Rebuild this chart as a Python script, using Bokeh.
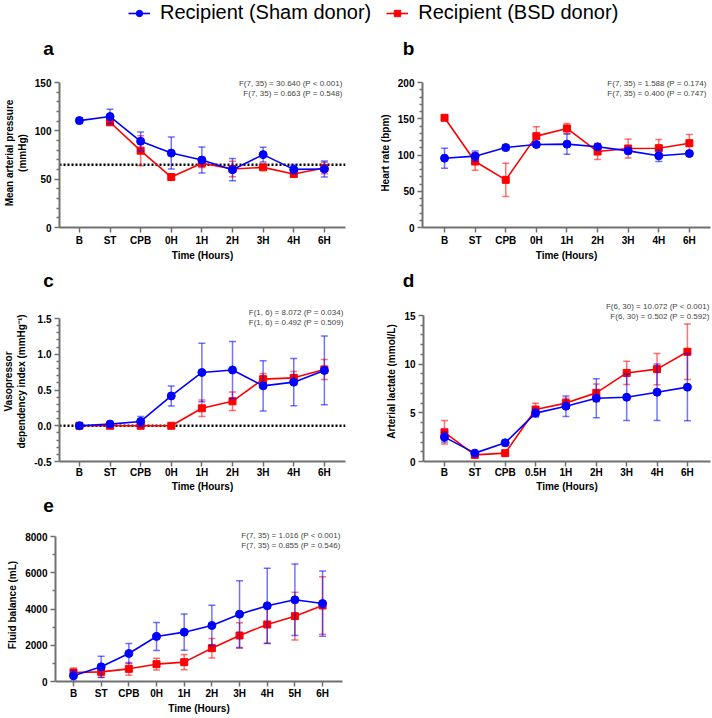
import numpy as np
from bokeh.plotting import figure
from bokeh.models import Span, Label, Legend, LegendItem, FixedTicker, Range1d
from bokeh.layouts import column, row
from bokeh.embed import file_html
from bokeh.resources import INLINE

nan = float("nan")
FONT = "Liberation Sans"
BLUE = "#0000FF"
RED = "#FF0000"
AXIS = "#707070"

# ---------------- data ----------------
series_names = ["Recipient (Sham donor)", "Recipient (BSD donor)"]

a_cats = ["B", "ST", "CPB", "0H", "1H", "2H", "3H", "4H", "6H"]
a_sham = [110.6, 114.8, 89.2, 77.0, 69.8, 59.8, 75.4, 60.1, 60.5]
a_sham_err = [3.0, 7.6, 9.7, 16.5, 13.5, 11.5, 7.7, 4.5, 8.3]
a_bsd = [nan, 108.9, 79.5, 52.2, 66.5, 60.5, 62.2, 55.3, 61.5]
a_bsd_err = [nan, 3.5, 15.5, 2.0, 4.5, 8.0, 2.0, 3.0, 6.0]
a_stats = ["F(7, 35) = 30.640 (P < 0.001)", "F(7, 35) = 0.663 (P = 0.548)"]
a_yticks = [0, 50, 100, 150]
a_threshold = 65

b_cats = ["B", "ST", "CPB", "0H", "1H", "2H", "3H", "4H", "6H"]
b_sham = [95.6, 98.4, 110.3, 114.5, 115.0, 111.3, 105.7, 98.9, 102.0]
b_sham_err = [13.8, 7.0, 4.0, 3.0, 14.0, 3.0, 4.0, 8.0, 3.0]
b_bsd = [151.3, 91.0, 65.7, 126.0, 136.6, 104.8, 109.0, 109.4, 116.3]
b_bsd_err = [2.0, 12.0, 23.0, 13.0, 7.0, 11.0, 13.0, 12.0, 12.0]
b_stats = ["F(7, 35) = 1.588 (P = 0.174)", "F(7, 35) = 0.400 (P = 0.747)"]
b_yticks = [0, 50, 100, 150, 200]

c_cats = ["B", "ST", "CPB", "0H", "1H", "2H", "3H", "4H", "6H"]
c_sham = [0.0, 0.023, 0.06, 0.417, 0.745, 0.78, 0.558, 0.61, 0.774]
c_sham_err = [0.005, 0.01, 0.07, 0.14, 0.41, 0.40, 0.35, 0.33, 0.48]
c_bsd = [0.0, 0.0, 0.0, 0.0, 0.244, 0.342, 0.652, 0.67, 0.788]
c_bsd_err = [0.0, 0.005, 0.005, 0.005, 0.115, 0.13, 0.08, 0.09, 0.14]
c_stats = ["F(1, 6) = 8.072 (P = 0.034)", "F(1, 6) = 0.492 (P = 0.509)"]
c_yticks = [-0.5, 0.0, 0.5, 1.0, 1.5]
c_threshold = 0.0

d_cats = ["B", "ST", "CPB", "0.5H", "1H", "2H", "3H", "4H", "6H"]
d_sham = [2.5, 0.86, 1.92, 4.97, 5.68, 6.5, 6.6, 7.12, 7.64]
d_sham_err = [0.5, 0.1, 0.3, 0.4, 1.05, 2.0, 2.4, 2.9, 3.45]
d_bsd = [3.0, 0.68, 0.86, 5.34, 6.0, 7.05, 9.1, 9.49, 11.27]
d_bsd_err = [1.2, 0.15, 0.1, 0.65, 0.5, 0.9, 1.2, 1.6, 2.85]
d_stats = ["F(6, 30) = 10.072 (P < 0.001)", "F(6, 30) = 0.502 (P = 0.592)"]
d_yticks = [0, 5, 10, 15]

e_cats = ["B", "ST", "CPB", "0H", "1H", "2H", "3H", "4H", "5H", "6H"]
e_sham = [313, 809, 1545, 2483, 2722, 3090, 3715, 4175, 4506, 4303]
e_sham_err = [300, 590, 550, 770, 1000, 1120, 1840, 2080, 1970, 1800]
e_bsd = [497, 533, 699, 956, 1067, 1839, 2538, 3145, 3605, 4193]
e_bsd_err = [250, 300, 350, 320, 420, 540, 700, 1030, 1320, 1590]
e_stats = ["F(7, 35) = 1.016 (P < 0.001)", "F(7, 35) = 0.855 (P = 0.546)"]
e_yticks = [0, 2000, 4000, 6000, 8000]


def minor_between(ticks, n):
    out = []
    for lo, hi in zip(ticks[:-1], ticks[1:]):
        step = (hi - lo) / n
        out += [lo + step * k for k in range(1, n)]
    return out


def draw_series(p, x, y, err, color, marker, size):
    x = np.asarray(x, dtype=float)
    y = np.asarray(y, dtype=float)
    err = np.asarray(err, dtype=float)
    ok = ~np.isnan(y) & ~np.isnan(err)
    xs, ys, es = x[ok], y[ok], err[ok]
    p.segment(x0=xs, y0=ys - es, x1=xs, y1=ys + es, line_color=color,
              line_alpha=0.55, line_width=1.5)
    p.scatter(x=xs, y=ys + es, marker="dash", size=7, line_color=color,
              line_alpha=0.55, line_width=1.5)
    p.scatter(x=xs, y=ys - es, marker="dash", size=7, line_color=color,
              line_alpha=0.55, line_width=1.5)
    p.line(x=x, y=y, line_color=color, line_width=1.6)
    p.scatter(x=x[~np.isnan(y)], y=y[~np.isnan(y)], marker=marker, size=size,
              fill_color=color, line_color=color)


def make_panel(cats, sham, sham_err, bsd, bsd_err, stats, ylabel, yticks, nminor,
               xrange, frame_w, axis_px, ext_px, border, ylab_standoff, stats_xy,
               xtick_standoff=2, xlab_standoff=2, threshold=None):
    l, r, t, b = border
    y0, y1 = yticks[0], yticks[-1]
    ytop = y1 + ext_px * (y1 - y0) / axis_px
    p = figure(frame_width=frame_w, frame_height=axis_px + ext_px, title=None,
               output_backend="svg", toolbar_location=None,
               x_range=Range1d(*xrange), y_range=Range1d(y0, ytop),
               min_border_left=l, min_border_right=r, min_border_top=t,
               min_border_bottom=b)
    p.outline_line_color = None
    p.grid.visible = False
    p.background_fill_color = "white"

    if threshold is not None:
        p.add_layout(Span(location=threshold, dimension="width", line_color="black",
                          line_width=2.5, line_dash="2 2", level="underlay"))

    x = list(range(len(cats)))
    draw_series(p, x, bsd, bsd_err, RED, "square", 7)
    draw_series(p, x, sham, sham_err, BLUE, "circle", 8)

    xa = p.xaxis[0]
    ya = p.yaxis[0]
    xa.ticker = FixedTicker(ticks=x)
    xa.major_label_overrides = {i: c for i, c in enumerate(cats)}
    ya.ticker = FixedTicker(ticks=yticks, minor_ticks=minor_between(yticks, nminor))
    ya.bounds = (y0, y1)
    for ax in (xa, ya):
        ax.axis_line_color = AXIS
        ax.axis_line_width = 2
        ax.major_tick_line_color = AXIS
        ax.major_tick_line_width = 1.5
        ax.minor_tick_line_color = AXIS
        ax.minor_tick_line_width = 1.5
        ax.major_tick_in = 0
        ax.major_tick_out = 5
        ax.minor_tick_in = 0
        ax.minor_tick_out = 3
        ax.major_label_text_font = FONT
        ax.major_label_text_font_size = "10px"
        ax.major_label_text_font_style = "bold"
        ax.major_label_text_color = "black"
        ax.axis_label_text_font = FONT
        ax.axis_label_text_font_size = "10px"
        ax.axis_label_text_font_style = "bold"
        ax.axis_label_text_color = "black"
    xa.minor_tick_line_color = None
    xa.major_label_standoff = xtick_standoff
    xa.axis_label = "Time (Hours)"
    xa.axis_label_standoff = xlab_standoff
    ya.major_label_standoff = 3
    ya.axis_label = ylabel
    ya.axis_label_standoff = ylab_standoff
    ya.axis_label_text_line_height = 1.2
    if isinstance(yticks[0], float) or isinstance(yticks[1], float):
        ya.major_label_overrides = {v: f"{v:.1f}" for v in yticks}

    for i, s in enumerate(stats):
        p.add_layout(Label(x=stats_xy[0], y=stats_xy[1] - 10.3 * i, x_units="screen",
                           y_units="screen", text=s, text_font=FONT,
                           text_font_size="8px", text_align="right",
                           text_baseline="middle", text_color="#444444"))
    return p


def header(height, letters):
    h = figure(width=712, height=height, title=None, output_backend="svg",
               toolbar_location=None, x_axis_location=None, y_axis_location=None,
               x_range=Range1d(0, 1), y_range=Range1d(0, 1),
               min_border_left=0, min_border_right=0, min_border_top=0,
               min_border_bottom=0)
    h.outline_line_color = None
    h.grid.visible = False
    for txt, sx, sy in letters:
        h.add_layout(Label(x=sx, y=sy, x_units="screen", y_units="screen", text=txt,
                           text_font=FONT, text_font_size="19px",
                           text_font_style="bold", text_align="center",
                           text_baseline="alphabetic", text_color="black"))
    return h


# header 1 with legend and letters a, b
h1 = header(64, [("a", 48, 16.5), ("b", 408, 16.5)])
lb = h1.line(x=[nan, nan], y=[nan, nan], line_color=BLUE, line_width=1.6)
mb = h1.scatter(x=[nan], y=[nan], marker="circle", size=8, fill_color=BLUE, line_color=BLUE)
lr = h1.line(x=[nan, nan], y=[nan, nan], line_color=RED, line_width=1.6)
mr = h1.scatter(x=[nan], y=[nan], marker="square", size=7, fill_color=RED, line_color=RED)
legend = Legend(items=[LegendItem(label=series_names[0], renderers=[lb, mb]),
                       LegendItem(label=series_names[1], renderers=[lr, mr])],
                orientation="horizontal", location=(128, 40),
                label_text_font=FONT, label_text_font_size="20px",
                label_text_color="black", glyph_width=22, glyph_height=16,
                label_standoff=10, spacing=15, padding=0, margin=0,
                border_line_color=None, background_fill_alpha=0)
h1.add_layout(legend, "center")

pa = make_panel(a_cats, a_sham, a_sham_err, a_bsd, a_bsd_err, a_stats,
                "Mean arterial pressure\n(mmHg)", a_yticks, 5, (-0.65, 8.69),
                286, 145, 4, (57, 21, 14, 37), 4, (283, 144),
                xtick_standoff=2, xlab_standoff=1, threshold=a_threshold)
pb = make_panel(b_cats, b_sham, b_sham_err, b_bsd, b_bsd_err, b_stats,
                "Heart rate (bpm)", b_yticks, 5, (-0.72, 8.69),
                288, 145, 4, (56, 4, 14, 37), 4, (284, 144.5),
                xtick_standoff=2, xlab_standoff=1)

h2 = header(26, [("c", 48, 10.5), ("d", 408, 10.5)])

pc = make_panel(c_cats, c_sham, c_sham_err, c_bsd, c_bsd_err, c_stats,
                "Vasopressor\ndependency index (mmHg\u207b\u00b9)", c_yticks, 5,
                (-0.65, 8.69), 286, 143, 17, (57, 21, 11, 33), 4, (284, 149),
                xtick_standoff=0, xlab_standoff=0, threshold=c_threshold)
pd = make_panel(d_cats, d_sham, d_sham_err, d_bsd, d_bsd_err, d_stats,
                "Arterial lactate (mmol/L)", d_yticks, 5, (-0.69, 8.76),
                287, 146, 14, (57, 4, 11, 33), 4, (286, 155),
                xtick_standoff=0, xlab_standoff=0)

h3 = header(20, [("e", 48, 9.5)])

pe = make_panel(e_cats, e_sham, e_sham_err, e_bsd, e_bsd_err, e_stats,
                "Fluid balance (mL)", e_yticks, 2, (-0.65, 9.72),
                287, 145, 8, (55, 22, 14, 36), 4, (285, 146),
                xtick_standoff=1, xlab_standoff=1)

layout = column(h1, row(pa, pb), h2, row(pc, pd), h3, row(pe))
open("out.html", "w").write(file_html(layout, INLINE))
